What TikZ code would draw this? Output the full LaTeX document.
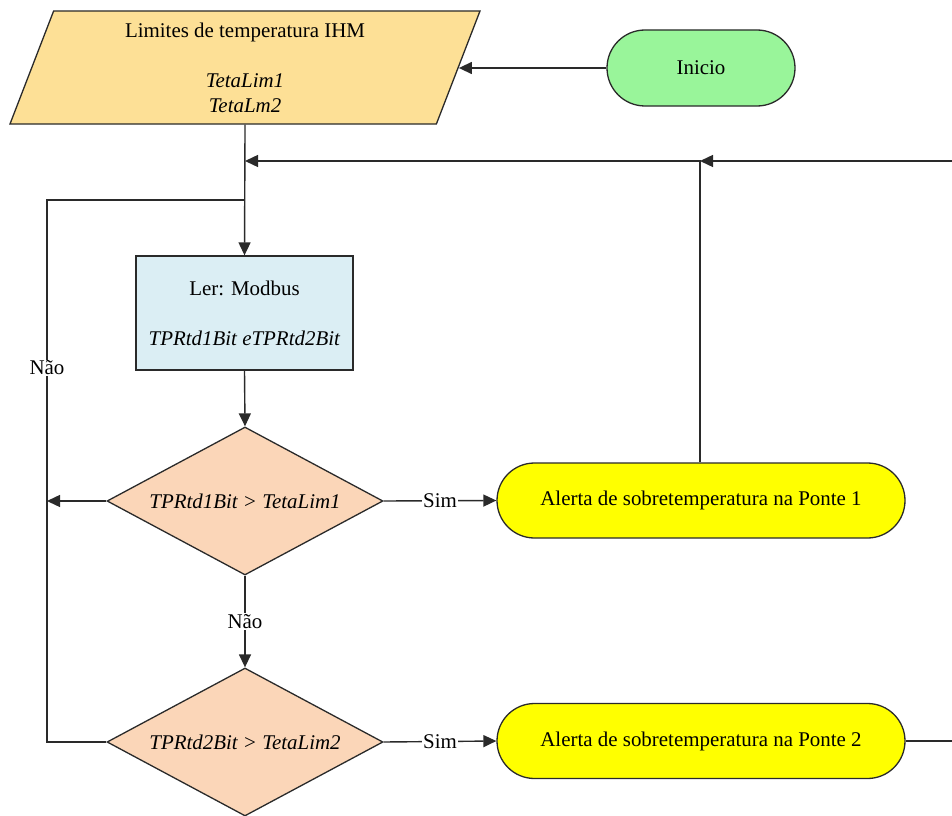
\documentclass[tikz,border=0pt]{standalone}
\usepackage{fontspec}
\setmainfont{LiberationSerif}[Extension=.ttf, UprightFont=*-Regular, ItalicFont=*-Italic, BoldFont=*-Bold, BoldItalicFont=*-BoldItalic]
\usetikzlibrary{shapes.geometric,shapes.misc,arrows.meta}
\definecolor{inputfill}{HTML}{FDE096}
\definecolor{startfill}{HTML}{99F59A}
\definecolor{readfill}{HTML}{DBEEF4}
\definecolor{testfill}{HTML}{FBD6B8}
\definecolor{alertfill}{HTML}{FFFF00}
\definecolor{edge}{HTML}{2A2A2A}
\tikzset{
  every node/.style={font=\fontsize{21}{25}\selectfont},
  box/.style={draw=edge, line width=1.3bp, inner sep=0pt, align=center},
  inputbox/.style={box, trapezium, trapezium left angle=64, trapezium right angle=116,
    trapezium stretches body, fill=inputfill, minimum width=470bp, minimum height=113bp},
  startbox/.style={box, rounded rectangle, fill=startfill, minimum width=188bp, minimum height=76bp},
  readbox/.style={box, rectangle, fill=readfill, minimum width=217bp, minimum height=114bp},
  testbox/.style={box, diamond, shape aspect=1.865, fill=testfill, minimum width=276bp, minimum height=148bp},
  alertbox/.style={box, rounded rectangle, fill=alertfill, minimum width=408bp, minimum height=75bp},
  flow/.style={draw=edge, line width=1.4bp},
  arr/.style={flow, -{Triangle[length=13bp,width=12bp]}},
  tag/.style={fill=white, inner sep=1bp},
}
\begin{document}
\begin{tikzpicture}[x=1bp,y=-1bp]
\useasboundingbox (0,0) rectangle (952,816);

% shapes
\node[inputbox] (lim) at (245,67.5) {Limites de temperatura IHM\\ \\ \textit{TetaLim1}\\ \textit{TetaLm2}};
\node[startbox] (ini) at (701,68) {Inicio};
\node[readbox] (rd) at (244.5,313) {Ler: Modbus\\ \\ \textit{TPRtd1Bit eTPRtd2Bit}};
\node[testbox] (d1) at (245,501) {\textit{TPRtd1Bit > TetaLim1}};
\node[testbox] (d2) at (245,742) {\textit{TPRtd2Bit > TetaLim2}};
\node[alertbox] (a1) at (701,500.5) {Alerta de sobretemperatura na Ponte 1};
\node[alertbox] (a2) at (701,741) {Alerta de sobretemperatura na Ponte 2};

% junction points of the loops
\coordinate (j1) at (245,161);
\coordinate (j2) at (245,200);
\coordinate (l1) at (47,200);
\coordinate (l2) at (47,742);
\coordinate (r1) at (952,161);
\coordinate (r2) at (952,741);
\coordinate (u1) at (700,161);

% main flow
\draw[arr] (ini.west) -- (ini.west -| lim.east);
\draw[arr] (lim.south) -- (rd.north);
\draw[arr] (rd.south) -- (d1.north);
\draw[arr] (d1.south) -- node[tag] {Não} (d2.north);
\draw[arr] (d1.east) -- node[tag, pos=0.5] {Sim} (a1.west);
\draw[arr] (d2.east) -- node[tag, pos=0.5] {Sim} (a2.west);

% return loops
\draw[arr] (r1) -- (u1);
\draw[arr] (a1.north -| u1) -- (u1) -- (j1);
\draw[flow] (a2.east) -- (r2);
\draw[arr] (d1.west) -- (d1.west -| l1);
\draw[flow] (d2.west) -- (l2) -- node[tag, pos=0.69] {Não} (l1) -- (j2);
\end{tikzpicture}
\end{document}
